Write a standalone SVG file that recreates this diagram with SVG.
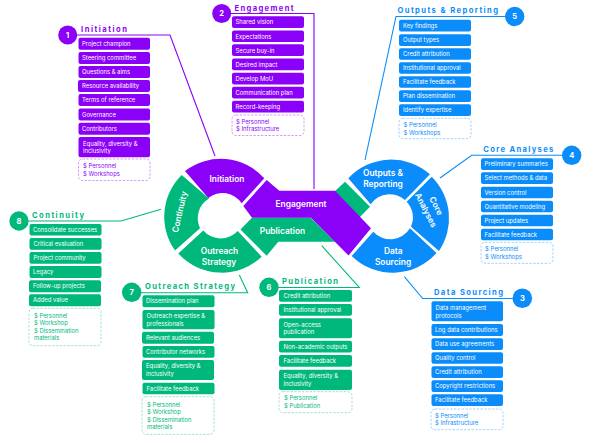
<svg xmlns="http://www.w3.org/2000/svg" width="600" height="443" viewBox="0 0 600 443">
<style>
text{font-family:"Inter","Liberation Sans",sans-serif}
.p{fill:#8b00f7}.g{fill:#00b87c}.b{fill:#0a8cfa}
.t{font-size:5.9px;fill:#fff}
.d{font-size:5.9px}
.h{font-size:7.6px;font-weight:700}
.n{font-size:7.5px;font-weight:700;fill:#fff;text-anchor:middle}
.c{font-size:8.4px;font-weight:600;fill:#fff;text-anchor:middle}
.bp{fill:#fff;fill-opacity:1;stroke-width:.7;stroke-dasharray:2.4 1.4;stroke-opacity:.55}
.lp{stroke:#8b00f7}.lg{stroke:#00b87c}.lb{stroke:#0a8cfa}
.l{fill:none;stroke-width:1.1}
</style>
<g id="connectors">
<path class="l lp" d="M76 35H170L215 156"/>
<path class="l lp" d="M231 13.5H314V189"/>
<path class="l lb" d="M505 16.5H396L365 160"/>
<path class="l lb" d="M562 155.3H471.7L440 178"/>
<path class="l lb" d="M513 298.5H422.7L404.3 276.7"/>
<path class="l lg" d="M278 287.5H359.3L321.7 245.7"/>
<path class="l lg" d="M141 292.7H247.7L239.3 275"/>
<path class="l lg" d="M28.5 221H121L161 209.3"/>
</g>
<g id="hub">
<path id="seg-green-strip" class="g" d="M333 193L345 181.7L370 206.7L358 219Z"/>
<g id="seg-initiation"><path class="p" d="M185 171A58.5 58.5 0 0 1 264.3 178.3L241.7 203.3A23 23 0 0 0 208.3 198Z"/><text class="c" x="227" y="181.5">Initiation</text></g>
<g id="seg-continuity"><path class="g" d="M181.7 175L209 198.5A23 23 0 0 0 200 228.3L175 250.5A58.5 58.5 0 0 1 181.7 175Z"/><text class="c" transform="translate(182.5 212.5) rotate(-77)">Continuity</text></g>
<g id="seg-outreach"><path class="g" d="M178.3 253.5L203.3 230.5A23 23 0 0 0 237.7 231L261.7 256.7A58.5 58.5 0 0 1 178.3 253.5Z"/><text class="c" x="219.5" y="254">Outreach</text><text class="c" x="219" y="265">Strategy</text></g>
<g id="seg-publication"><path class="g" d="M252 217.7H310.7L335 241.7H278.3L266.7 255.7L240.5 229.5Z"/><text class="c" x="282.5" y="233.5">Publication</text></g>
<g id="seg-engagement"><path class="p" d="M243.3 206L266.7 180L279.3 190.7H335L371 228.3L348.5 255.5L311 217.7H252Z"/><text class="c" x="301" y="207">Engagement</text></g>
<g id="seg-outputs"><path class="b" d="M348.3 178.3A58.5 58.5 0 0 1 430 174.3L405 200A23 23 0 0 0 370.7 204.3Z"/><text class="c" x="383" y="176">Outputs &amp;</text><text class="c" x="383" y="187">Reporting</text></g>
<g id="seg-core"><path class="b" d="M431.7 176.7A58.5 58.5 0 0 1 439 251L411 226.7A23 23 0 0 0 406.7 201.7Z"/><text class="c" transform="translate(433.5 207.2) rotate(63)">Core</text><text class="c" transform="translate(423.3 211.4) rotate(63)">Analyses</text></g>
<g id="seg-data"><path class="b" d="M351.7 256L373.3 231.7A23 23 0 0 0 410 228.3L436.5 253A58.5 58.5 0 0 1 351.7 256Z"/><text class="c" x="393.3" y="253.5">Data</text><text class="c" x="393" y="265">Sourcing</text></g>
</g>
<g id="node1">
<circle class="p" cx="67.7" cy="35" r="9.5"/><text class="n" x="67.7" y="37.7">1</text>
<text class="h p" x="81" y="32" textLength="46">Initiation</text>
<g class="p"><rect x="78.5" y="37.7" width="71.5" height="12" rx="2"/><rect x="78.5" y="52" width="71.5" height="12" rx="2"/><rect x="78.5" y="66" width="71.5" height="12" rx="2"/><rect x="78" y="80" width="72" height="12" rx="2"/><rect x="78.5" y="94" width="71.5" height="12" rx="2"/><rect x="78.5" y="108.5" width="71.5" height="12" rx="2"/><rect x="78.5" y="122.7" width="71.5" height="12" rx="2"/><rect x="78.5" y="137" width="71.5" height="20.3" rx="2"/></g>
<text class="t" x="82" y="46">Project champion</text><text class="t" x="82" y="60">Steering committee</text><text class="t" x="82" y="74">Questions &amp; aims</text><text class="t" x="82" y="88">Resource availability</text><text class="t" x="82" y="102">Terms of reference</text><text class="t" x="82" y="116.5">Governance</text><text class="t" x="82" y="131">Contributors</text><text class="t" x="83" y="145.5">Equality, diversity &amp;</text><text class="t" x="83" y="153">inclusivity</text>
<rect class="bp lp" x="78.5" y="159" width="71.5" height="21.5" rx="4"/>
<text class="d p" x="83" y="168">$ Personnel</text><text class="d p" x="83" y="175.5">$ Workshops</text>
</g>
<g id="node2">
<circle class="p" cx="221.7" cy="13.5" r="9.5"/><text class="n" x="221.7" y="16.2">2</text>
<text class="h p" x="234.5" y="10.5" textLength="59">Engagement</text>
<g class="p"><rect x="232" y="16.3" width="72" height="11.7" rx="2"/><rect x="232" y="30.4" width="72" height="11.7" rx="2"/><rect x="232" y="44.3" width="72" height="11.7" rx="2"/><rect x="232" y="58.6" width="72" height="11.7" rx="2"/><rect x="232" y="72.7" width="72" height="11.7" rx="2"/><rect x="232" y="86.7" width="72" height="11.7" rx="2"/><rect x="232" y="100.7" width="72" height="11.7" rx="2"/></g>
<text class="t" x="235.5" y="24.3">Shared vision</text><text class="t" x="235.5" y="38.5">Expectations</text><text class="t" x="235.5" y="52.5">Secure buy-in</text><text class="t" x="235.5" y="66.5">Desired impact</text><text class="t" x="235.5" y="80.5">Develop MoU</text><text class="t" x="235.5" y="95">Communication plan</text><text class="t" x="235.5" y="109">Record-keeping</text>
<rect class="bp lp" x="232" y="115" width="72" height="20.5" rx="4"/>
<text class="d p" x="236" y="123.5">$ Personnel</text><text class="d p" x="236" y="131">$ Infrastructure</text>
</g>
<g id="node3">
<circle class="b" cx="522.3" cy="298.3" r="9.8"/><text class="n" x="522.3" y="301">3</text>
<text class="h b" x="434" y="295" textLength="69">Data Sourcing</text>
<g class="b"><rect x="431.5" y="301.3" width="71.5" height="20" rx="2"/><rect x="431.5" y="324" width="71.5" height="12" rx="2"/><rect x="431.5" y="338.3" width="71.5" height="11.7" rx="2"/><rect x="431.5" y="352.3" width="71.5" height="11.5" rx="2"/><rect x="431.5" y="366.3" width="71.5" height="11.7" rx="2"/><rect x="431.5" y="380.3" width="71.5" height="11.7" rx="2"/><rect x="431.5" y="394.3" width="71.5" height="11.7" rx="2"/></g>
<text class="t" x="435.5" y="310">Data management</text><text class="t" x="435.5" y="317.5">protocols</text><text class="t" x="435" y="332.2">Log data contributions</text><text class="t" x="435" y="346.3">Data use agreements</text><text class="t" x="435" y="360.3">Quality control</text><text class="t" x="435" y="374.3">Credit attribution</text><text class="t" x="435" y="388.3">Copyright restrictions</text><text class="t" x="435" y="402.3">Facilitate feedback</text>
<rect class="bp lb" x="431" y="409" width="72" height="20.7" rx="4"/>
<text class="d b" x="435" y="417.5">$ Personnel</text><text class="d b" x="435" y="425">$ Infrastructure</text>
</g>
<g id="node4">
<circle class="b" cx="571.7" cy="155.3" r="9.7"/><text class="n" x="571.7" y="158">4</text>
<text class="h b" x="483.3" y="152.3" textLength="70">Core Analyses</text>
<g class="b"><rect x="481" y="158.3" width="72" height="11.7" rx="2"/><rect x="481" y="172.3" width="72" height="11.7" rx="2"/><rect x="481" y="186.7" width="72" height="11.5" rx="2"/><rect x="481" y="200.7" width="72" height="11.5" rx="2"/><rect x="481" y="214.7" width="72" height="11.5" rx="2"/><rect x="481" y="228.7" width="72" height="11.5" rx="2"/></g>
<text class="t" x="484.5" y="166.3">Preliminary summaries</text><text class="t" x="484.5" y="180.3">Select methods &amp; data</text><text class="t" x="484.5" y="194.6">Version control</text><text class="t" x="484.5" y="208.6">Quantitative modeling</text><text class="t" x="484.5" y="222.6">Project updates</text><text class="t" x="484.5" y="236.6">Facilitate feedback</text>
<rect class="bp lb" x="481" y="242.3" width="72" height="21" rx="4"/>
<text class="d b" x="485" y="251">$ Personnel</text><text class="d b" x="485" y="258.5">$ Workshops</text>
</g>
<g id="node5">
<circle class="b" cx="514.7" cy="16.5" r="9.7"/><text class="n" x="514.7" y="19.2">5</text>
<text class="h b" x="397.5" y="13" textLength="100.5">Outputs &amp; Reporting</text>
<g class="b"><rect x="399" y="19.7" width="72" height="11.7" rx="2"/><rect x="399" y="34.3" width="72" height="11.7" rx="2"/><rect x="399" y="48.3" width="72" height="11.5" rx="2"/><rect x="399" y="62.3" width="72" height="11.5" rx="2"/><rect x="399" y="76.3" width="72" height="11.5" rx="2"/><rect x="399" y="90.3" width="72" height="11.7" rx="2"/><rect x="399" y="104.3" width="72" height="11.7" rx="2"/></g>
<text class="t" x="403" y="27.8">Key findings</text><text class="t" x="403" y="42.4">Output types</text><text class="t" x="403" y="56.3">Credit attribution</text><text class="t" x="403" y="70.3">Institutional approval</text><text class="t" x="403" y="84.3">Facilitate feedback</text><text class="t" x="403" y="98.4">Plan dissemination</text><text class="t" x="403" y="112.4">Identify expertise</text>
<rect class="bp lb" x="399" y="118.3" width="72" height="20.4" rx="4"/>
<text class="d b" x="403.5" y="127">$ Personnel</text><text class="d b" x="403.5" y="134.5">$ Workshops</text>
</g>
<g id="node6">
<circle class="g" cx="269" cy="287.3" r="9.7"/><text class="n" x="269" y="290">6</text>
<text class="h g" x="282" y="284" textLength="56">Publication</text>
<g class="g"><rect x="279" y="290" width="73" height="11.7" rx="2"/><rect x="279" y="304" width="73" height="11.7" rx="2"/><rect x="279" y="318.3" width="73" height="20" rx="2"/><rect x="279" y="340.7" width="73" height="11.7" rx="2"/><rect x="279" y="355" width="73" height="11.7" rx="2"/><rect x="279" y="369.7" width="73" height="20.3" rx="2"/></g>
<text class="t" x="283.5" y="298">Credit attribution</text><text class="t" x="283.5" y="312">Institutional approval</text><text class="t" x="283.5" y="326.8">Open-access</text><text class="t" x="283.5" y="334.3">publication</text><text class="t" x="283.5" y="348.7">Non-academic outputs</text><text class="t" x="283.5" y="363">Facilitate feedback</text><text class="t" x="283.5" y="378.3">Equality, diversity &amp;</text><text class="t" x="283.5" y="385.8">inclusivity</text>
<rect class="bp lg" x="279" y="391.7" width="73" height="21" rx="4"/>
<text class="d g" x="284" y="400.3">$ Personnel</text><text class="d g" x="284" y="407.8">$ Publication</text>
</g>
<g id="node7">
<circle class="g" cx="131.7" cy="292.3" r="9.7"/><text class="n" x="131.7" y="295">7</text>
<text class="h g" x="145" y="289.3" textLength="90">Outreach Strategy</text>
<g class="g"><rect x="142.5" y="295.3" width="72" height="12" rx="2"/><rect x="142.5" y="310" width="72" height="19.3" rx="2"/><rect x="142" y="331.7" width="72" height="12" rx="2"/><rect x="142.5" y="346" width="72" height="11.7" rx="2"/><rect x="142" y="360" width="72" height="20" rx="2"/><rect x="142.5" y="382.7" width="72" height="11.6" rx="2"/></g>
<text class="t" x="146" y="303.4">Dissemination plan</text><text class="t" x="146.5" y="318">Outreach expertise &amp;</text><text class="t" x="146.5" y="325.5">professionals</text><text class="t" x="146" y="339.8">Relevant audiences</text><text class="t" x="146" y="354">Contributor networks</text><text class="t" x="146" y="368">Equality, diversity &amp;</text><text class="t" x="146" y="375.5">inclusivity</text><text class="t" x="146.5" y="390.6">Facilitate feedback</text>
<rect class="bp lg" x="142" y="396.7" width="72" height="37.6" rx="4"/>
<text class="d g" x="147" y="406.5">$ Personnel</text><text class="d g" x="147" y="414">$ Workshop</text><text class="d g" x="147" y="421.7">$ Dissemination</text><text class="d g" x="147" y="429.3">materials</text>
</g>
<g id="node8">
<circle class="g" cx="19" cy="221" r="9.7"/><text class="n" x="19" y="223.7">8</text>
<text class="h g" x="32" y="218" textLength="52">Continuity</text>
<g class="g"><rect x="29.5" y="224" width="72" height="11.5" rx="2"/><rect x="29.5" y="238" width="72" height="11.7" rx="2"/><rect x="29.5" y="252" width="72" height="11.7" rx="2"/><rect x="29.5" y="266" width="72" height="12" rx="2"/><rect x="29" y="280.3" width="72" height="12" rx="2"/><rect x="29" y="294.3" width="72" height="12" rx="2"/></g>
<text class="t" x="33" y="232">Consolidate successes</text><text class="t" x="33.5" y="246">Critical evaluation</text><text class="t" x="33.5" y="260">Project community</text><text class="t" x="33" y="274">Legacy</text><text class="t" x="33" y="288.4">Follow-up projects</text><text class="t" x="33" y="302.3">Added value</text>
<rect class="bp lg" x="29" y="308.3" width="72" height="37.4" rx="4"/>
<text class="d g" x="34" y="317.5">$ Personnel</text><text class="d g" x="34" y="325">$ Workshop</text><text class="d g" x="34" y="332.7">$ Dissemination</text><text class="d g" x="34" y="340.3">materials</text>
</g>
</svg>
